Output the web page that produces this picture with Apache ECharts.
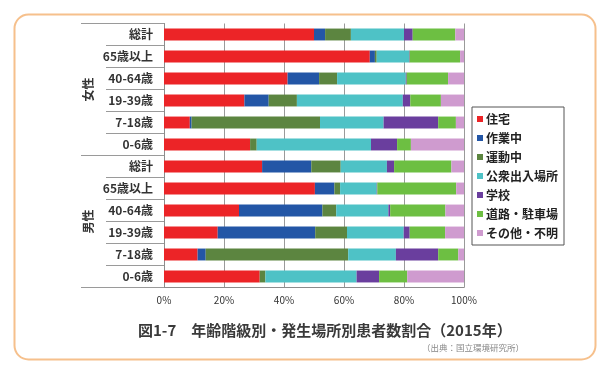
<!DOCTYPE html>
<html>
<head>
<meta charset="utf-8">
<script src="https://cdn.jsdelivr.net/npm/echarts@6/dist/echarts.min.js"></script>
<style>
html,body{margin:0;padding:0;background:#fff;}
#c{width:603px;height:368px;}
</style>
</head>
<body>
<div id="c"></div>
<script>
// ---- data (rows top to bottom: 女性 then 男性) ----
var groups = ['女性', '男性'];
var ageLabels = ['総計', '65歳以上', '40-64歳', '19-39歳', '7-18歳', '0-6歳'];
var seriesNames = ['住宅', '作業中', '運動中', '公衆出入場所', '学校', '道路・駐車場', 'その他・不明'];
var xTicks = [0, 20, 40, 60, 80, 100];

var housing = [50.0, 68.6, 41.2, 26.8, 8.6, 28.7, 32.7, 50.3, 25.0, 17.9, 11.2, 31.9];
var working = [3.7, 1.7, 10.5, 8.1, 0.6, 0, 16.4, 6.5, 27.8, 32.5, 2.7, 0];
var sports  = [8.6, 0.6, 6.0, 9.4, 42.8, 2.2, 9.8, 1.9, 4.6, 10.6, 47.5, 1.9];
var publicPlaces = [17.7, 10.8, 22.9, 35.3, 21.2, 38.1, 15.4, 12.2, 17.4, 18.9, 15.9, 30.4];
var school  = [2.9, 0.2, 0.3, 2.5, 18.2, 8.7, 2.4, 0.2, 0.6, 2.0, 14.1, 7.5];
var road    = [14.2, 16.8, 13.8, 10.2, 5.9, 4.6, 19.1, 26.3, 18.4, 11.8, 6.7, 9.4];
var other   = [2.9, 1.3, 5.3, 7.7, 2.7, 17.7, 4.2, 2.6, 6.2, 6.3, 1.9, 18.9];

var titleText = '図1-7\u3000年齢階級別・発生場所別患者数割合（2015年）';
var sourceText = '（出典：国立環境研究所）';

// ---- build ----
var colors = ['#EC2427', '#2356A6', '#5C8540', '#4EC2C6', '#6A3E9E', '#6DBF42', '#CF9BCF'];
var seriesData = [housing, working, sports, publicPlaces, school, road, other];
var categories = [];
groups.forEach(function (g) {
  ageLabels.forEach(function (a) { categories.push(g + '|' + a); });
});
var font = '"Noto Sans CJK JP", sans-serif';

var chart = echarts.init(document.getElementById('c'), null, {renderer: 'canvas'});
chart.setOption({
  backgroundColor: '#fff',
  animation: false,
  color: colors,
  textStyle: {fontFamily: font},
  graphic: [{
    type: 'rect', left: 12, top: 12, z: -10,
    shape: {width: 581, height: 345, r: 14},
    style: {fill: 'none', stroke: '#F6C08C', lineWidth: 2}
  }],
  title: [{
    text: titleText, left: 133, top: 318,
    textStyle: {fontSize: 15, fontWeight: 'bold', color: '#3a3a3a', fontFamily: font}
  }, {
    text: sourceText, left: 417, top: 339,
    textStyle: {fontSize: 8.5, fontWeight: 'normal', color: '#888', fontFamily: font}
  }],
  legend: {
    orient: 'vertical', left: 472, top: 107,
    data: seriesNames, icon: 'rect', itemWidth: 6, itemHeight: 6, itemGap: 7,
    padding: [6, 6, 6, 5],
    borderColor: '#555', borderWidth: 1,
    textStyle: {fontSize: 12, fontWeight: 'bold', color: '#222', lineHeight: 12, padding: [0, 0, 0, -2], fontFamily: font}
  },
  grid: {left: 164, right: 139, top: 23.5, bottom: 80.5, containLabel: false},
  xAxis: {
    type: 'value', min: 0, max: 100, interval: 20,
    axisLine: {show: true, lineStyle: {color: '#8c8c8c', width: 1}},
    axisTick: {show: false},
    splitLine: {show: true, lineStyle: {color: '#9a9a9a', width: 1}},
    axisLabel: {
      formatter: function (v) { return xTicks.indexOf(v) >= 0 ? v + '%' : ''; },
      fontSize: 10, color: '#333', margin: 8, fontFamily: font
    }
  },
  yAxis: [{
    type: 'category', inverse: true, data: categories, position: 'left',
    axisLine: {show: true, lineStyle: {color: '#8c8c8c', width: 1}},
    axisTick: {show: true, length: 58, lineStyle: {color: '#9a9a9a', width: 1}},
    axisLabel: {
      formatter: function (v) { return v.split('|')[1]; },
      fontSize: 12, fontWeight: 'bold', color: '#333', margin: 11, fontFamily: font
    },
    splitLine: {show: false}
  }, {
    type: 'category', inverse: true, data: groups, position: 'left',
    axisLine: {show: false},
    axisTick: {show: true, length: 83, lineStyle: {color: '#9a9a9a', width: 1}},
    axisLabel: {
      rotate: 90,
      fontSize: 12, fontWeight: 'bold', color: '#333', margin: 70, fontFamily: font
    },
    splitLine: {show: false}
  }],
  series: seriesNames.map(function (n, i) {
    return {
      name: n, type: 'bar', stack: 'total', yAxisIndex: 0,
      barWidth: '54%', data: seriesData[i],
      itemStyle: {color: colors[i]}
    };
  })
});
</script>
</body>
</html>
